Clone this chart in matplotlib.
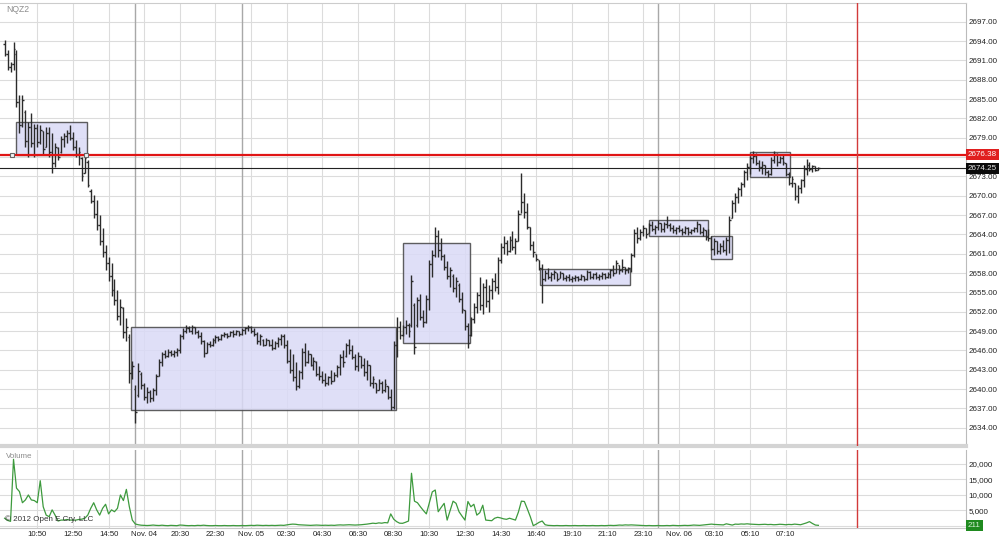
import matplotlib
matplotlib.use("Agg")
import matplotlib.pyplot as plt
from matplotlib.patches import Rectangle
from matplotlib.ticker import FuncFormatter

plt.rcParams["font.family"] = ["Liberation Sans", "DejaVu Sans"]

# 10-minute OHLC bars of NQZ2, bar index = position on the chart
highs = [
    2694.2, 2692.6, 2690.7, 2693.9, 2692.6, 2685.6, 2685.6, 2683.3, 2681.4, 2682.8,
    2681.2, 2681.2, 2680.9, 2680.1, 2680.6, 2680.6, 2679.7, 2678.2, 2677.6, 2679.2,
    2679.7, 2680.2, 2681.0, 2679.9, 2678.6, 2677.6, 2676.0, 2676.3, 2675.5, 2671.0,
    2670.1, 2669.3, 2667.0, 2665.0, 2662.3, 2660.5, 2659.6, 2657.0, 2655.4, 2654.0,
    2652.8, 2651.0, 2648.5, 2644.3, 2640.6, 2644.0, 2642.6, 2641.0, 2640.3, 2639.8,
    2640.2, 2642.4, 2644.7, 2645.8, 2646.0, 2646.2, 2646.0, 2646.1, 2646.4, 2648.6,
    2649.5, 2649.9, 2649.8, 2649.9, 2649.7, 2649.2, 2648.8, 2647.6, 2647.3, 2647.4,
    2647.9, 2648.4, 2648.3, 2648.6, 2648.9, 2648.7, 2649.0, 2649.1, 2649.2, 2649.0,
    2649.4, 2649.6, 2649.9, 2649.8, 2649.5, 2648.9, 2648.6, 2647.7, 2647.9, 2647.6,
    2647.8, 2647.4, 2648.1, 2648.6, 2648.5, 2647.6, 2646.2, 2645.5, 2644.2, 2643.0,
    2646.3, 2647.2, 2646.0, 2645.4, 2644.9, 2644.3, 2643.5, 2642.8, 2642.5, 2642.0,
    2642.9, 2642.6, 2643.8, 2645.5, 2646.0, 2647.2, 2647.7, 2646.8, 2645.5, 2645.8,
    2645.2, 2644.8, 2644.5, 2643.8, 2642.0, 2641.0, 2641.5, 2641.2, 2641.6, 2640.5,
    2640.0, 2647.5, 2651.2, 2650.5, 2650.0, 2650.7, 2650.2, 2657.7, 2653.3, 2654.3,
    2654.8, 2652.3, 2654.6, 2660.0, 2661.5, 2665.2, 2664.6, 2663.4, 2661.0, 2659.8,
    2659.0, 2657.9, 2657.4, 2656.5, 2655.0, 2652.3, 2650.2, 2651.2, 2653.3, 2655.0,
    2657.4, 2656.5, 2657.0, 2656.2, 2657.2, 2658.0, 2660.5, 2662.6, 2663.7, 2663.2,
    2663.8, 2664.5, 2663.4, 2667.8, 2673.5, 2670.4, 2668.8, 2665.2, 2663.0, 2661.0,
    2660.0, 2659.4, 2658.5, 2658.8, 2658.2, 2658.4, 2658.0, 2658.3, 2658.0, 2657.7,
    2657.8, 2657.5, 2657.7, 2657.6, 2657.8, 2657.6, 2658.5, 2658.3, 2658.0, 2658.1,
    2657.9, 2658.2, 2658.0, 2658.1, 2658.6, 2659.2, 2660.0, 2659.3, 2660.2, 2659.0,
    2658.9, 2661.1, 2664.8, 2665.2, 2664.8, 2665.4, 2665.0, 2665.8, 2666.0, 2665.4,
    2666.2, 2665.8, 2665.9, 2666.8, 2665.8, 2665.5, 2665.2, 2665.4, 2665.0, 2665.3,
    2665.1, 2664.9, 2665.2, 2666.0, 2665.6, 2665.2, 2664.6, 2664.8, 2663.7, 2663.4,
    2663.0, 2662.6, 2663.2, 2663.6, 2666.8, 2669.3, 2670.4, 2671.4, 2672.2, 2674.0,
    2675.0, 2676.2, 2677.0, 2676.6, 2675.6, 2675.4, 2674.8, 2674.0, 2676.0, 2677.0,
    2676.6, 2676.2, 2676.4, 2675.0, 2673.6, 2673.0, 2672.0, 2671.6, 2672.6, 2674.8,
    2675.7, 2675.2, 2674.8, 2674.6, 2674.5,
]
lows = [
    2691.6, 2689.5, 2689.2, 2689.5, 2683.8, 2679.7, 2680.7, 2677.5, 2676.0, 2677.5,
    2676.0, 2677.5, 2678.0, 2676.4, 2677.5, 2676.0, 2673.5, 2674.5, 2675.5, 2676.6,
    2677.6, 2678.1, 2678.6, 2677.1, 2676.0, 2674.8, 2672.3, 2673.5, 2671.3, 2668.8,
    2666.5, 2664.6, 2662.3, 2660.5, 2658.5, 2656.8, 2654.5, 2653.0, 2650.7, 2650.0,
    2647.9, 2647.5, 2641.0, 2641.6, 2634.7, 2638.8, 2640.0, 2638.3, 2637.8, 2638.0,
    2638.2, 2639.0, 2642.0, 2643.5, 2644.8, 2645.0, 2645.1, 2644.9, 2645.2, 2645.6,
    2647.8, 2648.7, 2648.8, 2648.6, 2648.5, 2647.9, 2647.0, 2645.0, 2645.6, 2646.5,
    2646.6, 2647.2, 2647.4, 2647.6, 2648.0, 2647.9, 2648.2, 2648.1, 2648.4, 2648.3,
    2648.4, 2648.6, 2649.0, 2648.7, 2648.3, 2647.0, 2646.8, 2646.6, 2646.9, 2646.7,
    2646.0, 2646.2, 2646.5, 2646.9, 2646.4, 2644.0, 2642.5, 2641.2, 2639.8, 2640.2,
    2641.5, 2643.5, 2644.0, 2643.5, 2643.0, 2642.0, 2641.4, 2641.0, 2640.4, 2640.6,
    2640.8, 2641.2, 2641.8, 2642.2, 2643.4, 2645.0, 2645.5, 2644.6, 2643.0, 2642.8,
    2643.2, 2642.0, 2641.4, 2640.5, 2640.2, 2639.4, 2639.8, 2639.4, 2639.6, 2638.4,
    2636.7, 2636.9, 2645.0, 2647.8, 2648.3, 2648.6, 2648.0, 2649.7, 2645.5, 2649.7,
    2650.7, 2649.7, 2650.2, 2652.3, 2657.4, 2660.5, 2660.5, 2660.0, 2658.4, 2657.0,
    2655.8, 2655.0, 2654.3, 2653.5, 2651.8, 2649.2, 2646.4, 2648.2, 2650.2, 2651.8,
    2652.3, 2651.6, 2652.8, 2652.0, 2654.0, 2655.2, 2654.8, 2659.5, 2661.0, 2660.8,
    2661.2, 2661.5, 2660.9, 2663.0, 2667.3, 2666.5, 2664.8, 2661.5, 2660.5, 2659.8,
    2658.5, 2653.3, 2656.8, 2657.0, 2656.8, 2657.0, 2656.7, 2657.3, 2656.9, 2656.8,
    2656.7, 2656.6, 2656.8, 2656.7, 2656.9, 2656.7, 2656.9, 2657.0, 2657.1, 2657.0,
    2656.9, 2657.1, 2657.0, 2657.2, 2657.3, 2657.6, 2658.0, 2657.8, 2658.2, 2657.8,
    2658.0, 2658.2, 2660.5, 2662.6, 2663.2, 2663.8, 2663.5, 2664.2, 2664.5, 2664.0,
    2664.6, 2664.4, 2664.3, 2665.0, 2664.5, 2664.2, 2664.0, 2664.3, 2663.9, 2664.1,
    2663.9, 2664.0, 2664.3, 2664.4, 2664.0, 2663.8, 2663.2, 2663.0, 2661.5, 2660.8,
    2661.0, 2660.9, 2661.2, 2660.8, 2661.1, 2666.5, 2667.5, 2668.8, 2669.9, 2671.4,
    2672.4, 2673.4, 2675.0, 2674.8, 2673.8, 2673.4, 2673.2, 2672.9, 2673.2, 2675.0,
    2674.6, 2675.0, 2674.8, 2673.0, 2671.6, 2671.4, 2669.4, 2668.8, 2670.4, 2671.4,
    2673.2, 2673.8, 2673.6, 2673.9, 2674.0,
]
opens = [
    2693.5, 2692.0, 2690.0, 2690.5, 2692.0, 2684.5, 2681.0, 2683.0, 2678.5, 2680.6,
    2678.2, 2680.5, 2678.4, 2680.0, 2677.5, 2679.8, 2676.8, 2675.0, 2677.4, 2676.8,
    2678.8, 2679.2, 2679.8, 2679.0, 2677.6, 2676.5, 2675.8, 2673.5, 2675.2, 2670.8,
    2669.2, 2667.2, 2665.4, 2663.0, 2661.2, 2659.5, 2657.6, 2655.4, 2653.8, 2651.4,
    2652.5, 2648.8, 2648.0, 2642.5, 2640.0, 2639.0, 2642.4, 2640.6, 2638.8, 2639.6,
    2638.6, 2639.8, 2642.0, 2644.2, 2645.4, 2645.2, 2645.8, 2645.4, 2645.8, 2646.0,
    2648.2, 2649.0, 2649.4, 2649.0, 2649.6, 2648.8, 2648.2, 2647.4, 2645.6, 2647.0,
    2646.8, 2647.6, 2648.0, 2647.8, 2648.4, 2648.6, 2648.2, 2648.8, 2648.6, 2649.0,
    2648.6, 2649.2, 2649.4, 2649.6, 2649.0, 2648.6, 2647.4, 2647.6, 2646.8, 2647.6,
    2646.9, 2646.4, 2647.2, 2647.8, 2648.2, 2646.8, 2644.4, 2643.0, 2641.8, 2640.4,
    2642.6, 2645.8, 2644.2, 2645.4, 2643.8, 2644.2, 2642.4, 2642.0, 2641.4, 2641.0,
    2641.8, 2641.2, 2642.2, 2643.4, 2645.0, 2645.2, 2646.8, 2646.0, 2645.0, 2643.6,
    2645.2, 2643.8, 2642.6, 2643.8, 2641.0, 2641.0, 2639.8, 2641.0, 2639.8, 2640.4,
    2638.8, 2637.2, 2646.8, 2649.6, 2648.4, 2649.6, 2650.0, 2650.0, 2653.0, 2650.0,
    2653.8, 2651.2, 2650.4, 2654.0, 2659.4, 2660.8, 2663.8, 2661.5, 2660.6, 2659.0,
    2657.6, 2657.6, 2655.6, 2656.2, 2654.0, 2652.3, 2649.8, 2648.4, 2650.8, 2652.8,
    2654.6, 2653.0, 2655.8, 2653.6, 2655.4, 2656.8, 2655.8, 2660.0, 2662.0, 2662.6,
    2661.4, 2663.2, 2662.0, 2663.0, 2667.2, 2669.0, 2667.4, 2665.2, 2662.4, 2661.0,
    2660.0, 2658.8, 2657.0, 2658.0, 2657.4, 2657.8, 2658.0, 2657.3, 2658.0, 2657.2,
    2657.4, 2657.0, 2657.2, 2657.4, 2657.0, 2657.6, 2657.0, 2658.2, 2657.4, 2657.8,
    2657.4, 2657.6, 2657.8, 2657.4, 2657.8, 2658.4, 2658.0, 2659.3, 2658.4, 2659.0,
    2658.4, 2658.8, 2660.8, 2664.2, 2663.4, 2664.4, 2665.0, 2664.2, 2665.4, 2664.8,
    2665.2, 2665.8, 2664.8, 2665.6, 2665.4, 2665.0, 2664.6, 2665.0, 2664.6, 2664.4,
    2665.0, 2664.4, 2664.6, 2665.0, 2665.6, 2664.4, 2664.6, 2663.6, 2663.4, 2661.8,
    2663.0, 2661.4, 2662.2, 2661.6, 2663.2, 2666.5, 2668.8, 2669.8, 2671.0, 2671.8,
    2673.6, 2674.4, 2675.8, 2676.2, 2675.0, 2674.4, 2674.8, 2673.6, 2673.4, 2675.6,
    2676.4, 2675.2, 2675.8, 2675.0, 2673.4, 2672.0, 2672.0, 2670.0, 2671.2, 2672.4,
    2674.2, 2674.8, 2674.2, 2674.6, 2674.0,
]
closes = [
    2692.0, 2690.0, 2690.5, 2692.8, 2684.5, 2681.0, 2684.8, 2678.5, 2680.6, 2678.2,
    2680.5, 2678.4, 2680.2, 2677.2, 2679.8, 2676.8, 2675.0, 2677.6, 2676.0, 2678.8,
    2679.2, 2679.8, 2679.0, 2677.6, 2676.5, 2676.8, 2673.0, 2675.8, 2671.6, 2669.2,
    2667.2, 2665.4, 2663.0, 2661.2, 2659.5, 2657.6, 2655.4, 2653.8, 2651.4, 2652.8,
    2648.8, 2649.6, 2642.5, 2643.6, 2636.5, 2642.8, 2640.6, 2638.8, 2639.6, 2638.6,
    2639.8, 2642.0, 2644.2, 2645.4, 2645.2, 2645.8, 2645.4, 2645.8, 2646.0, 2648.2,
    2649.0, 2649.4, 2649.0, 2649.6, 2648.8, 2648.2, 2647.4, 2645.6, 2647.0, 2646.8,
    2647.6, 2648.0, 2647.8, 2648.4, 2648.6, 2648.2, 2648.8, 2648.6, 2649.0, 2648.6,
    2649.2, 2649.4, 2649.6, 2649.0, 2648.6, 2647.4, 2648.2, 2646.8, 2647.6, 2646.9,
    2646.4, 2647.2, 2647.8, 2648.2, 2646.8, 2644.4, 2643.0, 2641.8, 2640.4, 2642.6,
    2645.8, 2644.2, 2645.4, 2643.8, 2644.4, 2642.4, 2642.0, 2641.4, 2641.0, 2641.8,
    2641.2, 2642.2, 2643.4, 2645.0, 2644.2, 2646.8, 2646.0, 2645.0, 2643.6, 2645.2,
    2643.8, 2642.6, 2643.8, 2641.0, 2641.6, 2639.8, 2641.0, 2639.8, 2640.8, 2638.8,
    2637.2, 2646.8, 2649.6, 2648.4, 2649.6, 2650.0, 2649.0, 2656.8, 2646.5, 2653.8,
    2651.2, 2650.4, 2654.0, 2659.4, 2660.8, 2663.8, 2661.5, 2660.6, 2659.0, 2657.6,
    2658.4, 2655.6, 2656.8, 2654.0, 2652.4, 2649.8, 2647.2, 2650.8, 2652.8, 2654.6,
    2653.0, 2655.8, 2653.6, 2655.4, 2656.8, 2655.8, 2660.0, 2662.0, 2662.6, 2661.4,
    2663.2, 2662.0, 2663.0, 2667.2, 2669.0, 2667.4, 2665.2, 2662.4, 2661.2, 2660.2,
    2658.8, 2657.0, 2658.0, 2657.4, 2657.8, 2658.2, 2657.0, 2658.0, 2657.2, 2657.4,
    2657.0, 2657.2, 2657.4, 2657.0, 2657.6, 2657.0, 2658.2, 2657.4, 2657.8, 2657.4,
    2657.6, 2657.8, 2657.4, 2657.8, 2658.4, 2658.0, 2659.6, 2658.4, 2659.0, 2658.4,
    2658.8, 2660.8, 2664.2, 2663.4, 2664.4, 2665.0, 2664.0, 2665.4, 2664.8, 2665.2,
    2665.8, 2664.8, 2665.6, 2665.4, 2665.0, 2664.6, 2665.0, 2664.6, 2664.4, 2665.0,
    2664.4, 2664.6, 2665.0, 2665.6, 2664.4, 2664.8, 2663.6, 2663.4, 2661.8, 2663.0,
    2661.4, 2662.2, 2661.6, 2663.2, 2666.2, 2668.8, 2669.8, 2671.0, 2671.8, 2673.6,
    2674.4, 2675.8, 2676.2, 2675.0, 2674.4, 2674.8, 2673.6, 2673.4, 2675.6, 2676.4,
    2675.2, 2675.8, 2675.2, 2673.4, 2672.0, 2672.6, 2670.0, 2671.2, 2672.4, 2674.2,
    2674.8, 2674.2, 2674.6, 2674.0, 2674.25,
]
volume = [
    2500, 1800, 1500, 21500, 12200, 11100, 7500, 8400, 10000, 8400,
    8200, 7500, 14600, 6200, 3500, 3000, 5200, 3500, 1600, 1900,
    1900, 2100, 1900, 1900, 1900, 2100, 2200, 2500, 3500, 5700,
    7500, 5200, 3500, 5700, 7000, 3900, 5200, 4600, 5700, 10000,
    8200, 11800, 6200, 1900, 650, 400, 250, 200, 150, 200,
    300, 200, 150, 250, 150, 100, 200, 150, 100, 300,
    250, 150, 100, 150, 100, 200, 150, 250, 150, 100,
    100, 150, 100, 100, 150, 100, 100, 150, 100, 100,
    150, 100, 150, 200, 150, 250, 200, 150, 200, 150,
    200, 150, 200, 250, 200, 350, 500, 600, 550, 400,
    350, 300, 250, 200, 250, 300, 250, 200, 250, 200,
    250, 200, 300, 350, 300, 350, 400, 350, 300, 350,
    400, 500, 600, 750, 900, 800, 1000, 900, 1100, 1000,
    3900, 2200, 1400, 900, 860, 1200, 1600, 17000, 8000, 7500,
    6200, 5000, 3900, 7500, 11000, 11600, 4600, 6000, 7300, 1900,
    5000, 8000, 7300, 4600, 3200, 1900, 7900, 6200, 7000, 3500,
    4300, 6700, 1900, 1800, 1700, 2500, 2800, 2600, 2300, 2150,
    2500, 2200, 1900, 4500, 8000, 7900, 5500, 3000, 100, 600,
    1200, 1600, 400, 200, 150, 100, 150, 100, 100, 150,
    100, 100, 150, 100, 100, 150, 100, 100, 150, 100,
    100, 150, 100, 150, 200, 150, 200, 300, 250, 350,
    300, 350, 300, 250, 200, 150, 100, 150, 100, 100,
    150, 100, 100, 150, 100, 200, 150, 100, 150, 200,
    150, 200, 300, 250, 200, 300, 400, 500, 600, 500,
    450, 400, 350, 700, 500, 300, 600, 550, 650, 600,
    700, 600, 550, 500, 450, 500, 550, 450, 500, 400,
    450, 550, 500, 400, 500, 450, 600, 500, 400, 700,
    1000, 1400, 800, 300, 211,
]

# consolidation boxes: (first bar, last bar, low, high)
boxes = [
    (3.8, 27.8, 2676.3, 2681.4),
    (42.5, 131.7, 2636.7, 2649.6),
    (134.2, 156.7, 2647.2, 2662.6),
    (180.3, 210.6, 2656.2, 2658.7),
    (217.1, 236.9, 2663.8, 2666.3),
    (237.8, 244.8, 2660.1, 2663.8),
    (250.9, 264.4, 2672.9, 2676.75),
]

tick_bars = [11, 23, 35, 47, 59, 71, 83, 95, 107, 119, 131,
             143, 155, 167, 179, 191, 203, 215, 227, 239, 251, 263]
tick_labels = ["10:50", "12:50", "14:50", "Nov. 04", "20:30", "22:30",
               "Nov. 05", "02:30", "04:30", "06:30", "08:30", "10:30",
               "12:30", "14:30", "16:40", "19:10", "21:10", "23:10",
               "Nov. 06", "03:10", "05:10", "07:10"]
session_starts = [44, 80, 220]
price_ticks = list(range(2634, 2698, 3))
volume_ticks = [5000, 10000, 15000, 20000]

line_price = 2676.38
last_price = 2674.25
cursor_bar = 287


def price_label(v, pos):
    # the 2676 label sits under the red price marker
    if abs(v - line_price) < 1.0:
        return ""
    return f"{v:.2f}"


W, H = 1000, 549
fig = plt.figure(figsize=(W / 100, H / 100), dpi=100)
ax = fig.add_axes([0, 1 - 446 / H, 966 / W, 443 / H])
vax = fig.add_axes([0, 1 - 528 / H, 966 / W, 78 / H], sharex=ax)

x = list(range(len(highs)))
bar_color = "#2b2b2b"
grid_color = "#dcdcdc"

# price panel
ax.set_xlim(-1.55, 323.7)
ax.set_ylim(2631.16, 2699.9)
ax.set_yticks(price_ticks)
ax.yaxis.tick_right()
ax.yaxis.set_major_formatter(FuncFormatter(price_label))
ax.tick_params(axis="y", length=0, pad=2, labelsize=5.8, labelcolor="#222222")
ax.tick_params(axis="x", length=0, labelbottom=False)
ax.set_xticks(tick_bars)
ax.grid(True, color=grid_color, lw=0.8, zorder=0)
ax.set_axisbelow(True)
ax.spines["left"].set_visible(False)
ax.spines["top"].set_color("#cccccc")
ax.spines["right"].set_color("#bbbbbb")
ax.spines["bottom"].set_color("#d4d4d4")
ax.spines["bottom"].set_linewidth(3)

for s in session_starts:
    ax.axvline(s, color="#a8a8a8", lw=1.0, zorder=1)
    vax.axvline(s, color="#a8a8a8", lw=1.0, zorder=1)

for b0, b1, lo, hi in boxes:
    ax.add_patch(Rectangle((b0, lo), b1 - b0, hi - lo, facecolor="#dadaf6",
                           alpha=0.85, edgecolor="#444444", lw=1.0, zorder=2))

ax.vlines(x, lows, highs, color=bar_color, lw=1.0, zorder=3)
ax.hlines(opens, [i - 0.5 for i in x], x, color=bar_color, lw=1.0, zorder=3)
ax.hlines(closes, x, [i + 0.5 for i in x], color=bar_color, lw=1.0, zorder=3)

ax.axhline(line_price, color="#e01515", lw=1.6, zorder=4)
ax.axhline(last_price, color="#222222", lw=0.8, zorder=4)
ax.plot([2.4, 27.4], [line_price, line_price], ls="none", marker="s",
        ms=3.5, mfc="#f4f4f4", mec="#666666", mew=0.8, zorder=5)
ax.axvline(cursor_bar, color="#d23a3a", lw=1.0, zorder=4)

ytr = ax.get_yaxis_transform()
ax.text(1.002, line_price, f"{line_price:.2f}", transform=ytr, ha="left",
        va="center", fontsize=5.8, color="white", clip_on=False, zorder=6,
        bbox=dict(facecolor="#e01f1f", edgecolor="none", pad=1.3))
ax.text(1.002, last_price, f"{last_price:.2f}", transform=ytr, ha="left",
        va="center", fontsize=5.8, color="#e8e8e8", clip_on=False, zorder=6,
        bbox=dict(facecolor="#0a0a0a", edgecolor="none", pad=1.3))

# volume panel
vax.plot(x, volume, color="#3d9a3d", lw=0.9, zorder=3)
vax.set_ylim(-650, 24500)
vax.set_yticks([0] + volume_ticks)
vax.yaxis.tick_right()
vax.yaxis.set_major_formatter(
    FuncFormatter(lambda v, p: "" if v == 0 else f"{int(v):,}"))
vax.tick_params(axis="y", length=0, pad=2, labelsize=5.8, labelcolor="#222222")
vax.set_xticks(tick_bars)
vax.set_xticklabels(tick_labels)
vax.tick_params(axis="x", length=0, pad=2, labelsize=5.6, labelcolor="#222222")
vax.grid(True, color=grid_color, lw=0.8, zorder=0)
vax.set_axisbelow(True)
vax.spines["left"].set_visible(False)
vax.spines["top"].set_visible(False)
vax.spines["right"].set_color("#bbbbbb")
vax.spines["bottom"].set_color("#c8c8c8")
vax.axvline(cursor_bar, color="#d23a3a", lw=1.0, zorder=4)
vtr = vax.get_yaxis_transform()
vax.text(1.002, volume[-1], f"{volume[-1]}", transform=vtr, ha="left",
         va="center", fontsize=5.8, color="#d8f0d8", clip_on=False, zorder=6,
         bbox=dict(facecolor="#1f8a1f", edgecolor="none", pad=1.3))

fig.text(6 / W, 1 - 10 / H, "NQZ2", fontsize=6.2, color="#8c8c8c",
         ha="left", va="center")
fig.text(6 / W, 1 - 456 / H, "Volume", fontsize=5.8, color="#8c8c8c",
         ha="left", va="center")
fig.text(5 / W, 1 - 519 / H, "\u00a9 2012 Open E Cry, LLC", fontsize=5.8,
         color="#333333", ha="left", va="center")

fig.savefig("out.png", dpi=100)
